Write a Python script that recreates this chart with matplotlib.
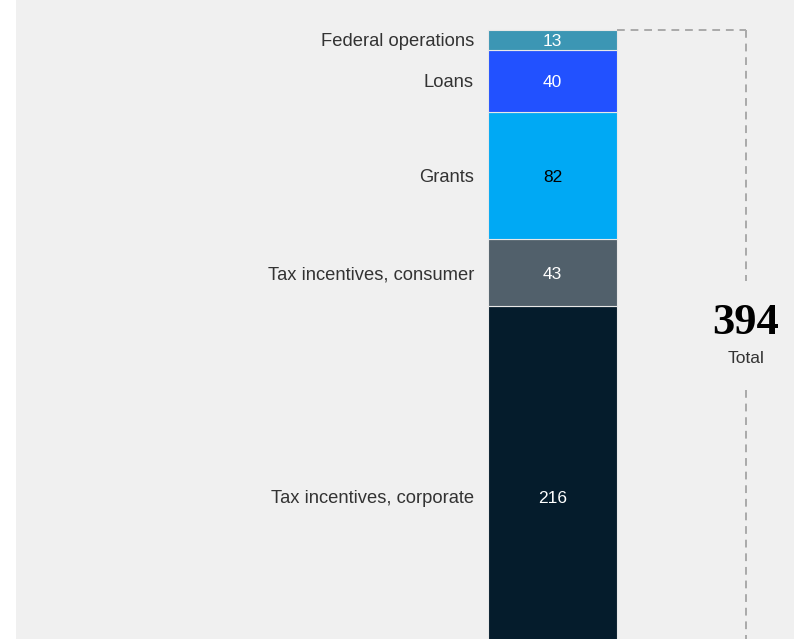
import numpy as np
import matplotlib.pyplot as plt
from matplotlib.patches import Rectangle

# stacked segments, bottom to top
categories = ['Tax incentives, corporate', 'Tax incentives, consumer', 'Grants',
              'Loans', 'Federal operations']
values = [216, 43, 82, 40, 13]
colors = ['#051c2c', '#51606b', '#00a9f4', '#2251ff', '#3c96b4']
text_colors = ['white', 'white', 'black', 'white', 'white']
total = sum(values)

fig = plt.figure(figsize=(7.94, 6.39), dpi=100, facecolor='#f0f0f0')
# white strip down the left edge
fig.patches.append(Rectangle((0, 0), 16/794, 1, transform=fig.transFigure,
                             facecolor='white', edgecolor='none', zorder=-1))
ax = fig.add_axes([16/794, 0, 1 - 16/794, 1])
ax.set_facecolor('#f0f0f0')

bar_x = 552.5
bar_w = 129
bottoms = np.concatenate([[0], np.cumsum(values)[:-1]])
ax.bar(bar_x, values, bottom=bottoms, width=bar_w, color=colors,
       edgecolor='#e8e8e8', linewidth=0.8)

for cat, v, b, tc in zip(categories, values, bottoms, text_colors):
    mid = b + v / 2 - 1.2
    if b == 0:
        # bottom segment runs off the picture, label sits lower
        mid -= 15
    ax.text(bar_x, mid, str(v), ha='center', va='center', color=tc,
            fontsize=12.5, family='Liberation Sans')
    ax.text(474, mid, cat, ha='right', va='center', color='#333333',
            fontsize=13.2, family='Liberation Sans')

# bracket for the total
dash = dict(color='#aaaaaa', lw=1.4, ls=(0, (4, 3)))
right_x = 746
ax.plot([bar_x + bar_w / 2, right_x], [total, total], **dash)
ax.plot([right_x, right_x], [total, 232], **dash)
ax.plot([right_x, right_x], [162, 0], **dash)

ax.text(right_x, 205, str(total), ha='center', va='center', fontsize=32,
        fontweight='bold', family='Liberation Serif', color='black')
ax.text(right_x, 182, 'Total', ha='center', va='center', fontsize=12.5,
        family='Liberation Sans', color='#333333')

ax.set_xlim(16, 794)
ax.set_ylim(1.3, 413.3)
ax.set_xticks([])
ax.set_yticks([])
for s in ax.spines.values():
    s.set_visible(False)

plt.savefig('out.png', dpi=100, facecolor=fig.get_facecolor())
